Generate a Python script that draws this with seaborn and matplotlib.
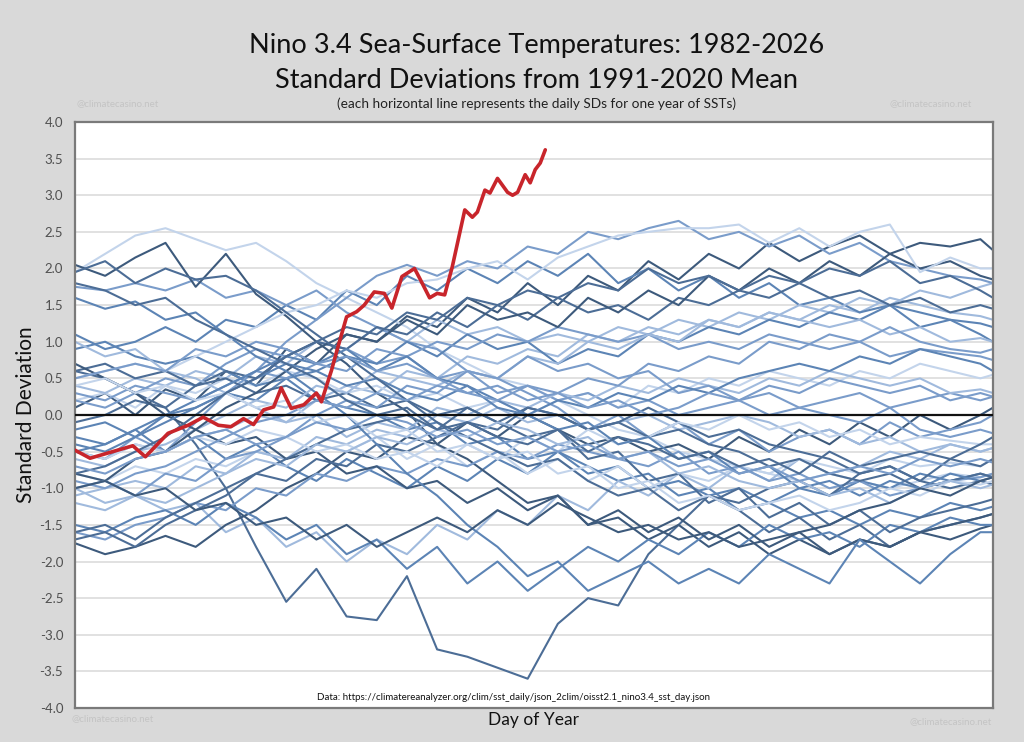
import numpy as np
import pandas as pd
import matplotlib
matplotlib.use("Agg")
import matplotlib.pyplot as plt
import seaborn as sns

# day-of-year sample points used for every year line
days = [1, 13, 25, 37, 49, 61, 73, 85, 97, 109, 121, 133, 145, 157, 169, 181,
        193, 205, 217, 229, 241, 253, 265, 277, 289, 301, 313, 325, 337, 349, 361, 366]

sd_1982 = [0.1, 0.3, 0.0, 0.35, 0.2, 0.6, 0.4, 0.9, 0.7, 1.1, 1.0, 1.35, 1.2, 1.6, 1.4, 1.8,
           1.5, 1.9, 1.7, 2.1, 1.85, 2.2, 2.0, 2.35, 2.1, 2.3, 2.45, 2.2, 2.35, 2.3, 2.4, 2.25]
sd_1983 = [1.95, 2.2, 2.45, 2.55, 2.4, 2.25, 2.35, 2.1, 1.8, 1.6, 1.4, 1.2, 0.9, 0.7, 0.5, 0.4,
           0.2, 0.0, -0.2, -0.3, -0.5, -0.6, -0.7, -0.8, -0.9, -0.8, -0.9, -1.0, -0.9, -0.8, -0.85, -0.8]
sd_1984 = [-0.3, -0.4, -0.2, -0.5, -0.3, -0.6, -0.4, -0.7, -0.9, -0.6, -0.8, -1.0, -0.7, -0.9, -0.6, -0.8,
           -0.5, -0.7, -0.9, -0.8, -1.1, -1.0, -1.3, -1.2, -1.4, -1.3, -1.5, -1.3, -1.4, -1.2, -1.3, -1.25]
sd_1985 = [-1.0, -1.2, -1.1, -1.3, -1.2, -1.6, -1.4, -1.8, -1.6, -2.0, -1.7, -1.9, -1.5, -1.7, -1.3, -1.5,
           -1.1, -1.3, -0.9, -1.1, -0.8, -1.0, -0.7, -0.9, -0.6, -0.8, -0.7, -0.5, -0.6, -0.4, -0.5, -0.45]
sd_1986 = [-0.5, -0.6, -0.4, -0.5, -0.3, -0.2, 0.0, -0.1, 0.2, 0.4, 0.3, 0.6, 0.5, 0.8, 0.7, 0.9,
           0.8, 1.1, 1.0, 1.2, 1.1, 1.3, 1.2, 1.4, 1.3, 1.5, 1.4, 1.6, 1.5, 1.4, 1.35, 1.3]
sd_1987 = [1.1, 0.9, 1.0, 1.2, 1.0, 1.3, 1.2, 1.5, 1.3, 1.7, 1.5, 1.9, 1.7, 2.0, 1.8, 2.1,
           1.9, 2.2, 1.8, 2.0, 1.7, 1.9, 1.6, 1.8, 1.5, 1.6, 1.4, 1.5, 1.2, 1.3, 1.1, 1.0]
sd_1988 = [0.6, 0.5, 0.3, 0.1, -0.4, -1.0, -1.8, -2.55, -2.1, -2.75, -2.8, -2.2, -3.2, -3.3, -3.45, -3.6,
           -2.85, -2.5, -2.6, -1.9, -1.5, -1.1, -1.3, -1.6, -1.4, -1.7, -1.5, -1.8, -1.6, -1.5, -1.4, -1.35]
sd_1989 = [-1.75, -1.9, -1.8, -1.65, -1.8, -1.5, -1.3, -1.0, -0.8, -0.5, -0.6, -0.3, -0.4, -0.1, -0.3, 0.0,
           -0.2, -0.4, -0.3, -0.5, -0.4, -0.6, -0.3, -0.5, -0.2, -0.4, -0.1, -0.3, 0.0, -0.2, 0.0, 0.1]
sd_1990 = [0.2, 0.3, 0.1, 0.4, 0.3, 0.5, 0.4, 0.6, 0.5, 0.3, 0.4, 0.2, 0.3, 0.1, 0.2, 0.0,
           0.2, 0.3, 0.1, 0.4, 0.3, 0.5, 0.4, 0.6, 0.5, 0.4, 0.6, 0.5, 0.7, 0.6, 0.5, 0.55]
sd_1991 = [0.4, 0.3, 0.5, 0.4, 0.6, 0.5, 0.8, 0.7, 1.0, 0.9, 1.2, 1.0, 1.3, 1.1, 1.2, 1.0,
           1.1, 1.0, 1.2, 1.1, 1.3, 1.2, 1.4, 1.3, 1.5, 1.4, 1.6, 1.5, 1.7, 1.6, 1.75, 1.8]
sd_1992 = [1.75, 1.7, 1.8, 1.7, 1.85, 1.6, 1.7, 1.5, 1.7, 1.4, 1.2, 1.0, 0.9, 0.6, 0.5, 0.3,
           0.1, -0.2, 0.0, -0.3, -0.1, -0.4, -0.2, -0.5, -0.3, -0.2, -0.4, -0.1, -0.3, -0.2, -0.1, 0.0]
sd_1993 = [0.2, 0.1, 0.3, 0.5, 0.4, 0.7, 0.9, 0.8, 1.0, 0.9, 0.7, 0.8, 0.5, 0.6, 0.3, 0.4,
           0.2, 0.3, 0.1, 0.2, 0.0, 0.1, 0.2, 0.0, 0.1, 0.2, 0.3, 0.1, 0.2, 0.3, 0.2, 0.25]
sd_1994 = [-0.2, -0.1, -0.3, 0.0, 0.1, 0.3, 0.2, 0.5, 0.6, 0.8, 0.7, 1.0, 0.8, 1.1, 0.9, 1.0,
           0.7, 0.9, 0.8, 1.1, 1.0, 1.2, 1.1, 1.3, 1.2, 1.4, 1.3, 1.5, 1.4, 1.3, 1.25, 1.2]
sd_1995 = [0.9, 1.0, 0.8, 0.7, 0.8, 0.6, 0.4, 0.5, 0.2, 0.1, 0.0, -0.2, -0.1, -0.4, -0.3, -0.6,
           -0.5, -0.8, -0.7, -1.0, -0.9, -1.1, -1.0, -1.2, -1.0, -1.1, -0.9, -1.0, -0.8, -0.9, -0.8, -0.85]
sd_1996 = [-0.8, -0.9, -0.7, -0.8, -0.6, -0.7, -0.5, -0.6, -0.4, -0.5, -0.3, -0.6, -0.4, -0.7, -0.5, -0.8,
           -0.6, -0.9, -0.7, -1.0, -0.8, -0.9, -0.7, -0.8, -0.6, -0.7, -0.8, -0.6, -0.7, -0.65, -0.7, -0.6]
sd_1997 = [-0.5, -0.6, -0.3, -0.5, -0.1, 0.3, 0.6, 1.0, 1.3, 1.6, 1.9, 2.05, 1.9, 2.1, 2.0, 2.3,
           2.2, 2.5, 2.4, 2.55, 2.65, 2.4, 2.5, 2.3, 2.45, 2.2, 2.35, 2.1, 2.0, 1.9, 1.85, 1.8]
sd_1998 = [2.05, 1.9, 2.15, 2.35, 1.75, 2.2, 1.65, 1.35, 1.0, 0.7, 0.3, 0.05, -0.4, -0.6, -0.9, -1.2,
           -1.1, -1.5, -1.4, -1.7, -1.5, -1.8, -1.6, -1.9, -1.7, -1.9, -1.7, -1.8, -1.6, -1.7, -1.55, -1.5]
sd_1999 = [-1.5, -1.6, -1.4, -1.3, -1.5, -1.2, -1.4, -1.7, -1.5, -1.9, -1.7, -2.1, -1.8, -2.3, -2.0, -2.4,
           -2.1, -1.8, -2.0, -1.7, -1.9, -1.6, -1.8, -1.5, -1.7, -1.6, -1.8, -1.5, -1.6, -1.4, -1.5, -1.5]
sd_2000 = [-1.6, -1.7, -1.5, -1.4, -1.2, -1.3, -1.0, -1.1, -0.8, -0.9, -0.7, -0.8, -0.6, -0.7, -0.5, -0.6,
           -0.4, -0.5, -0.6, -0.7, -0.5, -0.8, -0.7, -0.9, -0.8, -1.0, -0.9, -1.1, -1.0, -0.9, -0.85, -0.8]
sd_2001 = [-1.1, -1.0, -0.9, -1.0, -0.7, -0.8, -0.5, -0.6, -0.3, -0.4, -0.2, -0.3, 0.0, -0.1, 0.1, -0.1,
           0.0, -0.2, -0.1, 0.0, -0.2, -0.1, 0.0, -0.1, -0.3, -0.2, -0.4, -0.3, -0.5, -0.4, -0.5, -0.45]
sd_2002 = [-0.1, 0.0, 0.2, 0.1, 0.4, 0.6, 0.5, 0.8, 1.0, 0.9, 1.2, 1.1, 1.4, 1.2, 1.5, 1.3,
           1.6, 1.4, 1.5, 1.3, 1.6, 1.5, 1.7, 1.6, 1.8, 1.6, 1.7, 1.5, 1.6, 1.4, 1.5, 1.45]
sd_2003 = [1.0, 0.8, 0.9, 0.6, 0.5, 0.3, 0.1, -0.1, 0.0, -0.3, -0.1, -0.2, 0.1, 0.0, 0.2, 0.1,
           0.3, 0.2, 0.4, 0.3, 0.5, 0.4, 0.3, 0.5, 0.4, 0.6, 0.5, 0.4, 0.5, 0.3, 0.35, 0.3]
sd_2004 = [0.3, 0.2, 0.4, 0.3, 0.2, 0.4, 0.6, 0.5, 0.7, 0.6, 0.9, 0.8, 1.0, 0.9, 1.1, 1.0,
           1.2, 1.1, 1.0, 1.1, 0.9, 1.0, 0.9, 1.1, 1.0, 0.9, 1.0, 0.8, 0.9, 0.85, 0.8, 0.75]
sd_2005 = [0.6, 0.7, 0.5, 0.6, 0.4, 0.5, 0.3, 0.4, 0.2, 0.3, 0.1, 0.2, 0.0, 0.1, -0.1, 0.1,
           0.0, -0.2, -0.1, 0.1, -0.1, -0.3, -0.2, -0.4, -0.5, -0.6, -0.8, -0.7, -0.9, -1.0, -0.9, -0.95]
sd_2006 = [-0.6, -0.7, -0.5, -0.4, -0.2, 0.0, 0.2, 0.1, 0.4, 0.3, 0.6, 0.5, 0.4, 0.6, 0.5, 0.8,
           0.7, 1.0, 0.9, 1.1, 1.0, 1.3, 1.2, 1.4, 1.3, 1.2, 1.3, 1.1, 1.2, 1.0, 1.05, 1.0]
sd_2007 = [0.7, 0.5, 0.3, 0.0, -0.2, -0.4, -0.3, -0.6, -0.5, -0.8, -0.7, -1.0, -0.9, -1.2, -1.0, -1.3,
           -1.1, -1.5, -1.3, -1.6, -1.4, -1.7, -1.5, -1.8, -1.6, -1.9, -1.7, -1.8, -1.6, -1.5, -1.4, -1.35]
sd_2008 = [-1.6, -1.5, -1.7, -1.4, -1.2, -1.0, -0.8, -0.9, -0.6, -0.7, -0.4, -0.5, -0.3, -0.1, -0.2, 0.1,
           0.0, -0.2, -0.1, -0.3, -0.2, -0.4, -0.5, -0.7, -0.6, -0.8, -0.9, -0.8, -1.0, -0.9, -0.8, -0.85]
sd_2009 = [-0.8, -0.9, -0.6, -0.5, -0.2, 0.1, 0.3, 0.6, 0.9, 1.1, 1.0, 1.3, 1.1, 1.5, 1.3, 1.4,
           1.2, 1.6, 1.4, 1.7, 1.5, 1.9, 1.7, 2.0, 1.8, 2.1, 1.9, 2.2, 2.0, 2.1, 1.9, 1.85]
sd_2010 = [1.6, 1.45, 1.55, 1.3, 1.4, 1.1, 0.8, 0.6, 0.3, 0.0, -0.4, -0.8, -1.1, -1.5, -1.8, -2.2,
           -2.0, -2.4, -2.2, -2.0, -2.3, -2.1, -2.3, -1.9, -2.1, -2.3, -1.7, -2.0, -2.3, -1.9, -1.6, -1.6]
sd_2011 = [-1.7, -1.6, -1.8, -1.5, -1.3, -1.1, -0.8, -0.6, -0.4, -0.2, -0.1, 0.0, -0.2, 0.1, -0.1, -0.3,
           -0.2, -0.6, -0.5, -0.9, -0.8, -1.2, -1.0, -1.4, -1.2, -1.5, -1.3, -1.6, -1.4, -1.3, -1.2, -1.15]
sd_2012 = [-1.0, -0.9, -1.1, -0.8, -0.9, -0.6, -0.5, -0.3, 0.0, 0.2, 0.1, 0.4, 0.3, 0.6, 0.5, 0.8,
           0.6, 0.7, 0.5, 0.6, 0.3, 0.4, 0.2, 0.3, 0.1, 0.0, -0.1, 0.1, -0.2, -0.3, -0.2, -0.25]
sd_2013 = [-0.5, -0.6, -0.4, -0.5, -0.3, -0.4, -0.2, -0.3, -0.5, -0.4, -0.6, -0.5, -0.7, -0.4, -0.6, -0.3,
           -0.5, -0.2, -0.4, -0.3, -0.1, -0.2, 0.0, -0.2, -0.1, -0.3, -0.2, -0.4, -0.3, -0.35, -0.4, -0.4]
sd_2014 = [-0.4, -0.5, -0.3, -0.1, 0.1, 0.3, 0.5, 0.7, 0.6, 0.4, 0.5, 0.3, 0.2, 0.4, 0.1, 0.0,
           0.2, 0.1, 0.3, 0.2, 0.4, 0.3, 0.5, 0.6, 0.7, 0.6, 0.8, 0.7, 0.9, 0.8, 0.7, 0.6]
sd_2015 = [0.5, 0.6, 0.7, 0.6, 0.8, 1.0, 1.2, 1.4, 1.5, 1.7, 1.6, 1.8, 1.85, 2.0, 2.1, 1.85,
           2.15, 2.3, 2.45, 2.5, 2.55, 2.55, 2.6, 2.35, 2.55, 2.3, 2.5, 2.6, 1.95, 2.15, 2.0, 2.0]
sd_2016 = [1.95, 2.1, 1.8, 2.0, 1.85, 1.9, 1.7, 1.4, 1.1, 0.8, 0.5, 0.2, -0.1, -0.3, -0.5, -0.7,
           -0.6, -0.9, -1.1, -1.0, -1.3, -1.1, -1.2, -1.0, -0.9, -1.1, -0.8, -0.7, -0.9, -0.6, -0.7, -0.6]
sd_2017 = [-0.5, -0.4, -0.2, 0.0, 0.2, 0.4, 0.6, 0.8, 0.7, 0.9, 0.6, 0.8, 0.5, 0.4, 0.2, 0.0,
           -0.2, -0.1, -0.4, -0.3, -0.6, -0.5, -0.8, -0.7, -1.0, -0.9, -1.1, -0.9, -1.0, -0.8, -0.9, -0.85]
sd_2018 = [-0.9, -1.0, -0.8, -0.7, -0.5, -0.3, -0.1, 0.0, 0.2, 0.1, 0.3, 0.2, 0.4, 0.3, 0.2, 0.4,
           0.3, 0.5, 0.4, 0.7, 0.6, 0.8, 0.7, 1.0, 0.9, 1.1, 1.0, 1.2, 1.0, 0.9, 0.85, 0.9]
sd_2019 = [0.5, 0.6, 0.7, 0.6, 0.9, 0.8, 1.0, 0.9, 0.7, 0.8, 0.6, 0.7, 0.5, 0.3, 0.4, 0.2,
           0.3, 0.1, 0.2, 0.0, 0.1, 0.3, 0.2, 0.4, 0.3, 0.5, 0.4, 0.3, 0.4, 0.2, 0.3, 0.25]
sd_2020 = [0.4, 0.5, 0.3, 0.4, 0.2, 0.3, 0.1, 0.2, -0.1, 0.0, -0.3, -0.2, -0.5, -0.4, -0.6, -0.5,
           -0.8, -0.7, -1.0, -0.9, -1.2, -1.1, -1.3, -1.2, -1.1, -1.3, -1.2, -1.0, -1.1, -0.9, -0.95, -0.9]
sd_2021 = [-1.2, -1.3, -1.1, -1.2, -1.0, -0.8, -0.6, -0.7, -0.4, -0.5, -0.3, -0.4, -0.2, -0.3, -0.1, -0.2,
           -0.4, -0.3, -0.6, -0.5, -0.8, -0.7, -0.9, -1.0, -0.9, -1.1, -1.0, -1.2, -1.0, -0.9, -1.0, -0.95]
sd_2022 = [-1.0, -0.9, -1.1, -1.0, -1.3, -1.2, -1.5, -1.4, -1.7, -1.5, -1.8, -1.6, -1.4, -1.6, -1.3, -1.5,
           -1.2, -1.4, -1.6, -1.5, -1.7, -1.6, -1.8, -1.7, -1.6, -1.5, -1.3, -1.2, -1.0, -1.1, -0.9, -0.85]
sd_2023 = [-0.8, -0.7, -0.5, -0.3, 0.0, 0.3, 0.5, 0.8, 1.0, 1.2, 1.1, 1.4, 1.3, 1.6, 1.5, 1.7,
           1.6, 1.8, 1.7, 2.0, 1.8, 1.9, 1.7, 1.9, 1.8, 2.0, 1.9, 2.1, 1.8, 1.9, 1.7, 1.6]
sd_2024 = [1.8, 1.7, 1.5, 1.6, 1.3, 1.1, 0.9, 0.7, 0.5, 0.2, 0.0, 0.1, -0.2, -0.1, -0.3, -0.4,
           -0.2, -0.5, -0.3, -0.4, -0.6, -0.5, -0.7, -0.6, -0.8, -0.5, -0.7, -0.6, -0.5, -0.6, -0.4, -0.3]
sd_2025 = [-0.7, -0.8, -0.6, -0.5, -0.3, -0.2, -0.4, -0.3, -0.1, -0.2, 0.0, -0.1, -0.3, -0.2, -0.4, -0.3,
           -0.5, -0.4, -0.6, -0.5, -0.7, -0.6, -0.8, -0.7, -0.9, -0.8, -0.7, -0.8, -0.6, -0.7, -0.6, -0.65]

# current year (2026) so far
red_days = [1, 7, 18, 24, 29, 38, 46, 52, 58, 63, 68, 72, 76, 80, 83, 87, 92, 97, 99, 103,
            105, 109, 113, 116, 120, 124, 127, 131, 136, 138, 142, 145, 148, 151, 156, 159,
            161, 164, 166, 169, 173, 175, 177, 180, 182, 184, 186, 188]
red_sd = [-0.48, -0.59, -0.48, -0.42, -0.57, -0.25, -0.14, -0.03, -0.14, -0.16, -0.05, -0.13,
          0.07, 0.11, 0.37, 0.09, 0.14, 0.30, 0.18, 0.61, 0.86, 1.34, 1.41, 1.50, 1.68, 1.66,
          1.46, 1.89, 2.00, 1.87, 1.60, 1.66, 1.64, 2.02, 2.80, 2.70, 2.77, 3.07, 3.03, 3.23,
          3.04, 3.00, 3.04, 3.28, 3.17, 3.35, 3.44, 3.62]

years = list(range(1982, 2026))
series = [sd_1982, sd_1983, sd_1984, sd_1985, sd_1986, sd_1987, sd_1988, sd_1989, sd_1990,
          sd_1991, sd_1992, sd_1993, sd_1994, sd_1995, sd_1996, sd_1997, sd_1998, sd_1999,
          sd_2000, sd_2001, sd_2002, sd_2003, sd_2004, sd_2005, sd_2006, sd_2007, sd_2008,
          sd_2009, sd_2010, sd_2011, sd_2012, sd_2013, sd_2014, sd_2015, sd_2016, sd_2017,
          sd_2018, sd_2019, sd_2020, sd_2021, sd_2022, sd_2023, sd_2024, sd_2025]

# line shade per year (0 = darkest blue)
blues = ["#3d5a7c", "#4c6d96", "#5c84b5", "#7a9cca", "#a0badd", "#c3d4eb"]
shade = [0, 5, 2, 4, 4, 2, 1, 0, 5, 4, 3, 3, 2, 2, 5, 3, 0, 2, 3, 4, 1, 4,
         3, 1, 4, 0, 1, 0, 2, 1, 3, 5, 2, 5, 1, 2, 3, 3, 5, 4, 0, 1, 1, 3]
palette = {yr: blues[s] for yr, s in zip(years, shade)}

rows = []
for yr, vals in zip(years, series):
    for d, v in zip(days, vals):
        rows.append((yr, d, v))
df = pd.DataFrame(rows, columns=["year", "day", "sd"])

sns.set_style("white")
plt.rcParams["font.family"] = ["Lato", "DejaVu Sans"]

bg = "#d9d9d9"
fig = plt.figure(figsize=(10.24, 7.42), dpi=100, facecolor=bg)
ax = fig.add_axes([0.0732, 0.0458, 0.8965, 0.7898])
ax.set_facecolor("white")

# light gridlines every 0.5 SD
for yv in np.arange(-3.5, 4.0, 0.5):
    ax.axhline(yv, color="#dcdcdc", lw=1.2, zorder=0)

sns.lineplot(data=df, x="day", y="sd", hue="year", palette=palette, estimator=None,
             lw=1.5, legend=False, ax=ax)
ax.axhline(0, color="#111111", lw=1.6, zorder=3)
sns.lineplot(x=red_days, y=red_sd, color="#c8252b", lw=2.6, ax=ax, zorder=4)

ax.set_xlim(1, 366)
ax.set_ylim(-4, 4)
ax.set_xticks([])
yt = np.arange(-4, 4.01, 0.5)
ax.set_yticks(yt)
ax.set_yticklabels([f"{v:.1f}" for v in yt])
ax.tick_params(axis="y", length=0, pad=8.5, labelsize=9.5, labelcolor="#505050")
ax.set_xlabel("")
ax.set_ylabel("")
for sp in ax.spines.values():
    sp.set_color("#7a7a7a")
    sp.set_linewidth(1.6)

fig.text(0.524, 0.939, "Nino 3.4 Sea-Surface Temperatures: 1982-2026", ha="center", va="center",
         fontsize=19.5, color="#111111")
fig.text(0.524, 0.892, "Standard Deviations from 1991-2020 Mean", ha="center", va="center",
         fontsize=19.5, color="#111111")
fig.text(0.524, 0.860, "(each horizontal line represents the daily SDs for one year of SSTs)",
         ha="center", va="center", fontsize=9.8, color="#222222")
fig.text(0.025, 0.441, "Standard Deviation", rotation=90, ha="center", va="center",
         fontsize=15, color="#111111")
fig.text(0.521, 0.030, "Day of Year", ha="center", va="center", fontsize=12.5, color="#111111")
ax.text(0.478, 0.018, "Data: https://climatereanalyzer.org/clim/sst_daily/json_2clim/oisst2.1_nino3.4_sst_day.json",
        transform=ax.transAxes, ha="center", va="center", fontsize=7, color="#111111")

wm = "#c4c4c4"
fig.text(0.115, 0.860, "@climatecasino.net", ha="center", va="center", fontsize=7, color=wm)
fig.text(0.909, 0.860, "@climatecasino.net", ha="center", va="center", fontsize=7, color=wm)
fig.text(0.110, 0.032, "@climatecasino.net", ha="center", va="center", fontsize=7, color=wm)
fig.text(0.928, 0.028, "@climatecasino.net", ha="center", va="center", fontsize=7, color=wm)

fig.savefig("out.png", dpi=100, facecolor=bg)
